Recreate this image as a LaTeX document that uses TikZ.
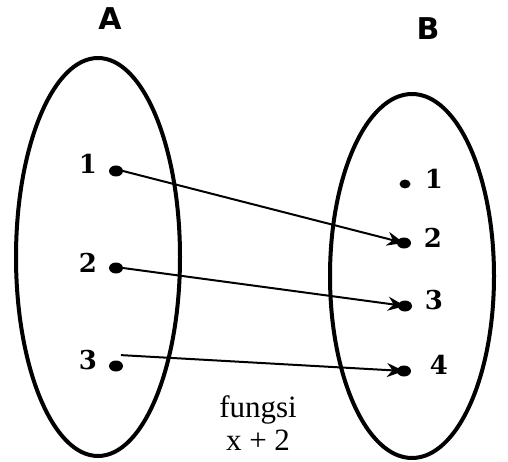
\documentclass[tikz,border=0pt]{standalone}
\usepackage{fontspec}
\setmainfont{Liberation Serif}
\newfontfamily\tebal{DejaVu Serif}[BoldFont={DejaVu Serif Bold}]
\newfontfamily\judulfont{DejaVu Sans}[BoldFont={DejaVu Sans Bold}]
\usepackage{tikz}
\usetikzlibrary{arrows.meta, shapes.geometric}
\tikzset{
    himpunan/.style={draw=black, line width=4pt},
    titik/.style={ellipse, fill=black, inner sep=0pt, outer sep=0pt, minimum width=14pt, minimum height=11pt},
    angka/.style={font=\tebal\bfseries\fontsize{26}{26}\selectfont},
    judul/.style={font=\judulfont\bfseries\fontsize{30}{30}\selectfont},
    panah/.style={-{Stealth[length=17pt, width=14pt]}, line width=2pt},
    teks/.style={font=\fontsize{31}{33}\selectfont, align=center}
}

\begin{document}
\begin{tikzpicture}[x=1pt, y=-1pt]
    \useasboundingbox (0,0) rectangle (508,462);
    % himpunan A dan B
    \draw[himpunan] (98,257) ellipse [x radius=82, y radius=199];
    \draw[himpunan] (412,276) ellipse [x radius=82, y radius=182];
    \node[judul] (A) at (110,19) {A};
    \node[judul] (B) at (428,29) {B};
    % anggota A
    \node[titik] (a1) at (116,171) {};
    \node[titik] (a2) at (116,268) {};
    \node[titik] (a3) at (116,366) {};
    \node[angka] (la1) at (88,164) {1};
    \node[angka] (la2) at (88,263) {2};
    \node[angka] (la3) at (88,360) {3};
    % anggota B
    \node[titik, minimum width=11pt, minimum height=9pt] (b1) at (405,184) {};
    \node[titik] (b2) at (404,243) {};
    \node[titik] (b3) at (405,306) {};
    \node[titik] (b4) at (404,371) {};
    \node[angka] (lb1) at (434,179) {1};
    \node[angka] (lb2) at (433,238) {2};
    \node[angka] (lb3) at (434,300) {3};
    \node[angka] (lb4) at (439,365) {4};
    % relasi
    \draw[panah] (a1.east) -- (b2.center);
    \draw[panah] (a2.east) -- (b3.center);
    \draw[panah] ([yshift=7pt]a3.north east) -- (b4.center);
    \node[teks] (f) at (258,423) {fungsi\\x + 2};
\end{tikzpicture}
\end{document}
